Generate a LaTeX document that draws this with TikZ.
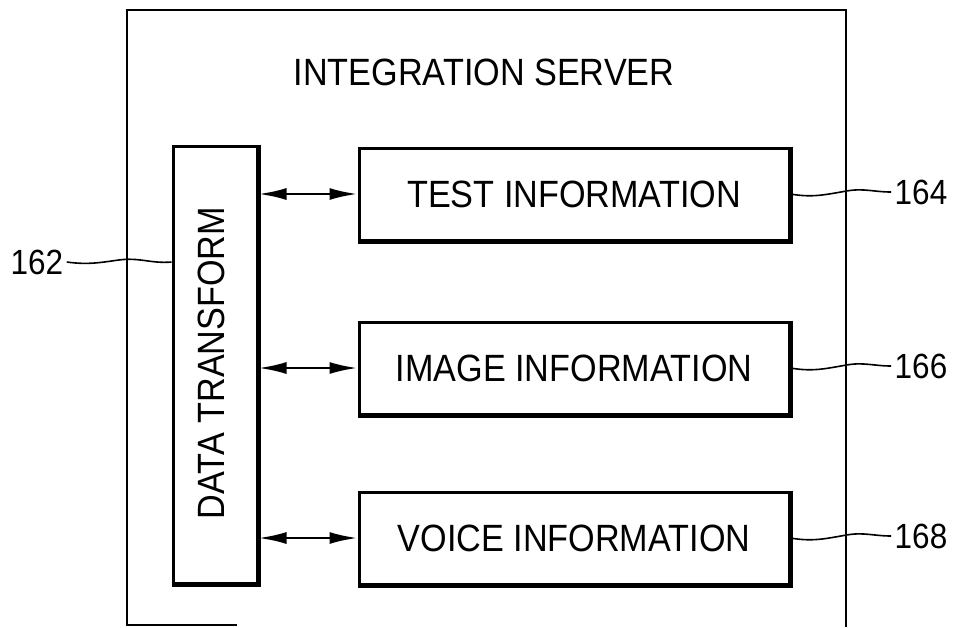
\documentclass[tikz,border=0pt]{standalone}
\usepackage{fontspec}
\setmainfont{Liberation Sans}[FakeStretch=0.9]
\usetikzlibrary{arrows.meta}

\tikzset{
    boite/.style={draw, line width=3pt, inner sep=0pt},
    ombre/.style={line width=5.5pt, line join=miter},
    grand/.style={font=\fontsize{38}{40}\selectfont},
    repere/.style={font=\fontsize{35}{37}\selectfont},
    pointe/.tip={Latex[length=28pt,width=12pt]},
    fleche/.style={line width=2.6pt, pointe-pointe},
    renvoi/.style={line width=1.6pt}
}

\begin{document}
\begin{tikzpicture}[x=1pt,y=-1pt]
    \useasboundingbox (0,0) rectangle (958,627);

    % Cadre du serveur d'intégration
    \draw[line width=2.8pt] (846,627) -- (846,10) -- (127,10) -- (127,625) -- (237,625);
    \node[grand] (titre) at (484,72) {INTEGRATION SERVER};

    % Bloc de transformation des données
    \node[boite, minimum width=84pt, minimum height=437pt] (dt) at (215,364.5) {};
    \draw[ombre] (dt.north east) -- (dt.south east) -- (dt.south west);
    \node[grand, rotate=90] (dttexte) at (211,363) {DATA TRANSFORM};

    % Blocs d'information et flèches vers la transformation
    \foreach \nom/\texte/\y/\num in {test/TEST INFORMATION/194/164,
                                     image/IMAGE INFORMATION/368/166,
                                     voice/VOICE INFORMATION/538/168} {
        \node[boite, grand, minimum width=430pt, minimum height=92pt] (\nom) at (574,\y) {\texte};
        \draw[ombre] (\nom.north east) -- (\nom.south east) -- (\nom.south west);
        \draw[fleche] (dt.east |- \nom.west) -- (\nom.west);
        \node[repere] (r\num) at (921,\y-2) {\num};
        \draw[renvoi] (\nom.east) to[out=-10, in=190] ++(56,-3) to[out=10, in=180] (r\num.west);
    }

    % Repère du bloc de transformation
    \node[repere] (r162) at (37,262) {162};
    \draw[renvoi] (r162.east) to[out=-8, in=188] ++(52,-2) to[out=8, in=185] (dt.west |- r162.east);

\end{tikzpicture}
\end{document}
